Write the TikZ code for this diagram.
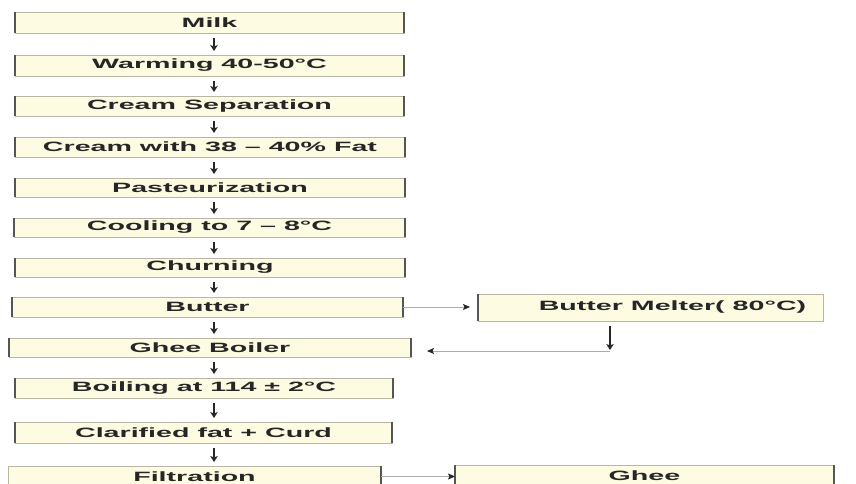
\documentclass[tikz,border=0pt]{standalone}
\usepackage{fontspec}
\setmainfont{Liberation Sans}[FakeStretch=2.12]
\usetikzlibrary{arrows.meta}
\definecolor{boxfill}{HTML}{FDFBE2}
\definecolor{boxedge}{HTML}{B8B6A4}
\definecolor{sideedge}{HTML}{555555}
\definecolor{ink}{HTML}{262626}
\tikzset{
  stage/.style={draw=boxedge, fill=boxfill, line width=0.8pt, inner sep=0pt,
    outer sep=0pt, anchor=north west, text=ink,
    font=\fontsize{13.5}{16}\selectfont\bfseries},
  sides/.style={draw=sideedge, line width=1.6pt},
  flow/.style={draw=ink, line width=1.2pt, -{Stealth[length=6pt,width=7.5pt,inset=1.5pt]}},
  feed/.style={draw=gray!65, line width=0.8pt, -{Stealth[length=7pt,width=6pt,inset=1.5pt,color=ink]}},
}
\begin{document}
\begin{tikzpicture}[x=1pt,y=-1pt]
\path[use as bounding box] (0,0) rectangle (856,484);
\clip (0,0) rectangle (856,484);

% main column of process stages
\node[stage, minimum width=389pt, minimum height=21pt] (milk)   at (15,12)  {Milk};
\node[stage, minimum width=389pt, minimum height=21pt] (warm)   at (15,55)  {Warming 40-50°C};
\node[stage, minimum width=389pt, minimum height=20pt] (sep)    at (15,96)  {Cream Separation};
\node[stage, minimum width=390pt, minimum height=20pt] (cream)  at (15,137) {Cream with 38 – 40\% Fat};
\node[stage, minimum width=390pt, minimum height=19pt] (past)   at (15,178) {Pasteurization};
\node[stage, minimum width=391pt, minimum height=19pt] (cool)   at (14,218) {Cooling to 7 – 8°C};
\node[stage, minimum width=390pt, minimum height=19pt] (churn)  at (15,258) {Churning};
\node[stage, minimum width=391pt, minimum height=20pt] (butter) at (12,297) {Butter};
\node[stage, minimum width=402pt, minimum height=19pt] (boiler) at (9,338)  {Ghee Boiler};
\node[stage, minimum width=378pt, minimum height=20pt] (boil)   at (15,378) {Boiling at 114 ± 2°C};
\node[stage, minimum width=377pt, minimum height=21pt] (clar)   at (15,422) {Clarified fat + Curd};
\node[stage, minimum width=373pt, minimum height=21pt] (filt)   at (8,466)  {Filtration};

% side branch
\node[stage, minimum width=345pt, minimum height=27pt] (melter) at (478,294) {\hspace*{44pt}Butter Melter( 80°C)};
\node[stage, minimum width=379pt, minimum height=21pt] (ghee)   at (455,465) {Ghee};

% darker vertical edges of the boxes
\foreach \n in {milk,warm,sep,cream,past,cool,churn,butter,boiler,boil,clar,ghee}
  \draw[sides] (\n.north west) -- (\n.south west) (\n.north east) -- (\n.south east);
\draw[sides] (filt.north east) -- (filt.south east);
\draw[sides] (melter.north west) -- (melter.south west);

% downward flow arrows
\coordinate (ax) at (214,0);
\foreach \a/\b in {milk/warm,warm/sep,sep/cream,cream/past,past/cool,cool/churn,
                   churn/butter,butter/boiler,boiler/boil,boil/clar,clar/filt}
  \draw[flow] ([yshift=-5pt]\a.south -| ax) -- ([yshift=4pt]\b.north -| ax);

% butter to melter and back to the ghee boiler
\draw[feed, shorten >=8pt] (butter.east) -- (melter.west |- butter.east);
\coordinate (drop) at (610,351);
\draw[flow] ([yshift=-5pt]melter.south -| drop) -- ([yshift=1pt]drop);
\draw[feed, shorten >=16pt] (drop) -- (boiler.east |- drop);

% filtration to ghee
\draw[feed] (filt.east) -- (ghee.west |- filt.east);
\end{tikzpicture}
\end{document}
